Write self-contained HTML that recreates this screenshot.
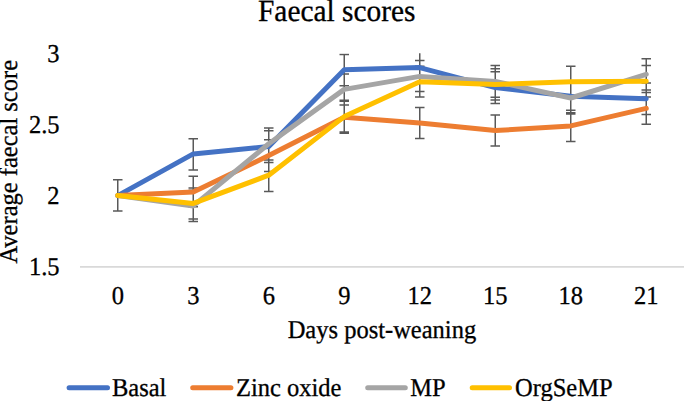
<!DOCTYPE html>
<html><head><meta charset="utf-8"><style>
html,body{margin:0;padding:0;background:#fff;width:685px;height:401px;overflow:hidden}
svg{display:block}
text{font-family:"Liberation Serif",serif;text-rendering:geometricPrecision}
</style></head><body>
<svg width="685" height="401" viewBox="0 0 685 401">
<rect width="685" height="401" fill="#fff"/>
<defs><clipPath id="pa"><rect x="80.0" y="53.35" width="604.0" height="222.85"/></clipPath></defs>
<g clip-path="url(#pa)">
<line x1="80.0" y1="266.8" x2="684.0" y2="266.8" stroke="#D9D9D9" stroke-width="1.7"/>
<path d="M117.75 179.70V210.90M113.00 179.70H122.50M113.00 210.90H122.50M193.25 138.70V169.90M188.50 138.70H198.00M188.50 169.90H198.00M193.25 176.20V206.80M188.50 176.20H198.00M188.50 206.80H198.00M193.25 187.90V219.10M188.50 187.90H198.00M188.50 219.10H198.00M193.25 190.20V221.60M188.50 190.20H198.00M188.50 221.60H198.00M268.75 128.00V159.90M264.00 128.00H273.50M264.00 159.90H273.50M268.75 130.80V162.60M264.00 130.80H273.50M264.00 162.60H273.50M268.75 139.80V171.40M264.00 139.80H273.50M264.00 171.40H273.50M268.75 159.90V191.50M264.00 159.90H273.50M264.00 191.50H273.50M344.25 54.50V85.70M339.50 54.50H349.00M339.50 85.70H349.00M344.25 73.90V105.00M339.50 73.90H349.00M339.50 105.00H349.00M344.25 100.30V132.00M339.50 100.30H349.00M339.50 132.00H349.00M344.25 101.20V133.20M339.50 101.20H349.00M339.50 133.20H349.00M419.75 51.20V82.20M415.00 51.20H424.50M415.00 82.20H424.50M419.75 60.50V91.60M415.00 60.50H424.50M415.00 91.60H424.50M419.75 66.30V97.10M415.00 66.30H424.50M415.00 97.10H424.50M419.75 107.50V138.60M415.00 107.50H424.50M415.00 138.60H424.50M495.25 65.60V97.20M490.50 65.60H500.00M490.50 97.20H500.00M495.25 68.70V100.10M490.50 68.70H500.00M490.50 100.10H500.00M495.25 71.80V103.40M490.50 71.80H500.00M490.50 103.40H500.00M495.25 115.00V146.10M490.50 115.00H500.00M490.50 146.10H500.00M570.75 66.20V97.40M566.00 66.20H575.50M566.00 97.40H575.50M570.75 80.90V112.80M566.00 80.90H575.50M566.00 112.80H575.50M570.75 82.30V114.00M566.00 82.30H575.50M566.00 114.00H575.50M570.75 110.30V141.60M566.00 110.30H575.50M566.00 141.60H575.50M646.25 58.70V89.90M641.50 58.70H651.00M641.50 89.90H651.00M646.25 65.60V97.10M641.50 65.60H651.00M641.50 97.10H651.00M646.25 83.00V114.60M641.50 83.00H651.00M641.50 114.60H651.00M646.25 92.40V124.30M641.50 92.40H651.00M641.50 124.30H651.00" stroke="#595959" stroke-width="1.5" fill="none"/>
<polyline points="117.75,195.60 193.25,153.90 268.75,146.60 344.25,69.80 419.75,67.60 495.25,87.60 570.75,96.30 646.25,98.70" fill="none" stroke="#4472C4" stroke-width="5.0" stroke-linejoin="round" stroke-linecap="round"/>
<polyline points="117.75,195.60 193.25,192.10 268.75,155.60 344.25,117.30 419.75,122.90 495.25,130.60 570.75,125.90 646.25,108.40" fill="none" stroke="#ED7D31" stroke-width="5.0" stroke-linejoin="round" stroke-linecap="round"/>
<polyline points="117.75,195.60 193.25,205.90 268.75,143.80 344.25,89.40 419.75,76.40 495.25,81.40 570.75,98.00 646.25,74.30" fill="none" stroke="#A5A5A5" stroke-width="5.0" stroke-linejoin="round" stroke-linecap="round"/>
<polyline points="117.75,195.60 193.25,203.40 268.75,175.20 344.25,116.60 419.75,81.70 495.25,84.40 570.75,81.80 646.25,81.20" fill="none" stroke="#FFC000" stroke-width="5.0" stroke-linejoin="round" stroke-linecap="round"/>
</g>
<text transform="translate(336.75 21.00) scale(1 1.05)" font-size="29.4" text-anchor="middle" fill="#000" stroke="#000" stroke-width="0.3">Faecal scores</text>
<text transform="translate(59.50 61.95) scale(1 1.05)" font-size="24.5" text-anchor="end" fill="#000" stroke="#000" stroke-width="0.3">3</text>
<text transform="translate(59.50 132.90) scale(1 1.05)" font-size="24.5" text-anchor="end" fill="#000" stroke="#000" stroke-width="0.3">2.5</text>
<text transform="translate(59.50 203.85) scale(1 1.05)" font-size="24.5" text-anchor="end" fill="#000" stroke="#000" stroke-width="0.3">2</text>
<text transform="translate(59.50 274.80) scale(1 1.05)" font-size="24.5" text-anchor="end" fill="#000" stroke="#000" stroke-width="0.3">1.5</text>
<text transform="translate(117.75 303.60) scale(1 1.05)" font-size="24.5" text-anchor="middle" fill="#000" stroke="#000" stroke-width="0.3">0</text>
<text transform="translate(193.25 303.60) scale(1 1.05)" font-size="24.5" text-anchor="middle" fill="#000" stroke="#000" stroke-width="0.3">3</text>
<text transform="translate(268.75 303.60) scale(1 1.05)" font-size="24.5" text-anchor="middle" fill="#000" stroke="#000" stroke-width="0.3">6</text>
<text transform="translate(344.25 303.60) scale(1 1.05)" font-size="24.5" text-anchor="middle" fill="#000" stroke="#000" stroke-width="0.3">9</text>
<text transform="translate(419.75 303.60) scale(1 1.05)" font-size="24.5" text-anchor="middle" fill="#000" stroke="#000" stroke-width="0.3">12</text>
<text transform="translate(495.25 303.60) scale(1 1.05)" font-size="24.5" text-anchor="middle" fill="#000" stroke="#000" stroke-width="0.3">15</text>
<text transform="translate(570.75 303.60) scale(1 1.05)" font-size="24.5" text-anchor="middle" fill="#000" stroke="#000" stroke-width="0.3">18</text>
<text transform="translate(646.25 303.60) scale(1 1.05)" font-size="24.5" text-anchor="middle" fill="#000" stroke="#000" stroke-width="0.3">21</text>
<text transform="translate(381.90 337.80) scale(1 1.05)" font-size="24.5" text-anchor="middle" fill="#000" stroke="#000" stroke-width="0.3">Days post-weaning</text>
<text transform="translate(17.40 161.75) rotate(-90) scale(1 1.05)" font-size="24.5" text-anchor="middle" fill="#000" stroke="#000" stroke-width="0.3">Average faecal score</text>
<line x1="69.10" y1="387.7" x2="107.50" y2="387.7" stroke="#4472C4" stroke-width="5.0" stroke-linecap="round"/>
<text transform="translate(112.00 395.60) scale(1 1.05)" font-size="24.5" fill="#000" stroke="#000" stroke-width="0.3">Basal</text>
<line x1="192.70" y1="387.7" x2="230.90" y2="387.7" stroke="#ED7D31" stroke-width="5.0" stroke-linecap="round"/>
<text transform="translate(236.00 395.60) scale(1 1.05)" font-size="24.5" fill="#000" stroke="#000" stroke-width="0.3">Zinc oxide</text>
<line x1="367.70" y1="387.7" x2="405.30" y2="387.7" stroke="#A5A5A5" stroke-width="5.0" stroke-linecap="round"/>
<text transform="translate(410.30 395.60) scale(1 1.05)" font-size="24.5" fill="#000" stroke="#000" stroke-width="0.3">MP</text>
<line x1="472.20" y1="387.7" x2="509.50" y2="387.7" stroke="#FFC000" stroke-width="5.0" stroke-linecap="round"/>
<text transform="translate(515.00 395.60) scale(1 1.05)" font-size="24.5" fill="#000" stroke="#000" stroke-width="0.3">OrgSeMP</text>
</svg>
</body></html>
